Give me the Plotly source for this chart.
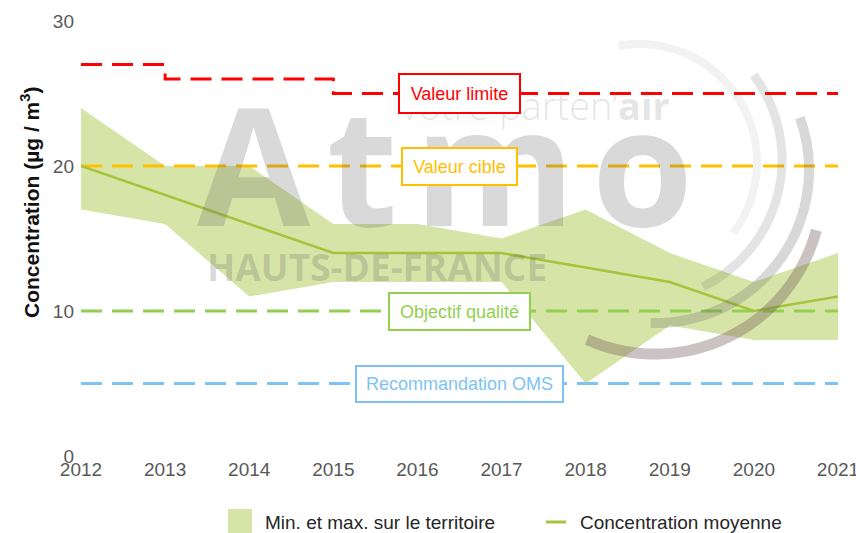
import numpy as np
import plotly.graph_objects as go

# ---- data ----
years = [2012, 2013, 2014, 2015, 2016, 2017, 2018, 2019, 2020, 2021]
conc_max = [24, 20, 20, 16, 16, 15, 17, 14, 12, 14]
conc_min = [17, 16, 11, 12, 12, 12, 5, 9, 8, 8]
conc_mean = [20, 18, 16, 14, 14, 14, 13, 12, 10, 11]

limit_years = [2012, 2013, 2015, 2021]
limit_vals = [27, 26, 25, 25]
target_val = 20
quality_val = 10
who_val = 5

y_ticks = [0, 10, 20, 30]
x_tick_labels = [str(y) for y in years]

# ---- styles ----
RED = "#FF0000"
ORANGE = "#FFC000"
GREEN = "#92D050"
BLUE = "#7DC3F5"
BAND = "#D7E4A7"
MEAN = "#A3C43C"
FONT = "Liberation Sans, Arial, sans-serif"

# plot area in pixels (for decorative watermark placement)
L, R, T, B = 81, 838, 21, 456
W_, H_ = 856, 533


def pxx(x):
    return (x - L) / (R - L)


def pxy(y):
    return (B - y) / (B - T)


fig = go.Figure()

fig.add_trace(go.Scatter(x=years, y=conc_min, mode="lines", line=dict(width=0, color=BAND),
                         showlegend=False, hoverinfo="skip"))
fig.add_trace(go.Scatter(x=years, y=conc_max, mode="lines", line=dict(width=0, color=BAND),
                         fill="tonexty", fillcolor=BAND, name="Min. et max. sur le territoire",
                         showlegend=False))

dash = "21px,10px"
fig.add_trace(go.Scatter(x=limit_years, y=limit_vals, mode="lines", line=dict(color=RED, width=3, dash=dash, shape="hv"),
                         showlegend=False))
fig.add_trace(go.Scatter(x=[years[0], years[-1]], y=[target_val] * 2, mode="lines",
                         line=dict(color=ORANGE, width=3, dash=dash), showlegend=False))
fig.add_trace(go.Scatter(x=[years[0], years[-1]], y=[quality_val] * 2, mode="lines",
                         line=dict(color=GREEN, width=3, dash=dash), showlegend=False))
fig.add_trace(go.Scatter(x=[years[0], years[-1]], y=[who_val] * 2, mode="lines",
                         line=dict(color=BLUE, width=3, dash=dash), showlegend=False))

fig.add_trace(go.Scatter(x=years, y=conc_mean, mode="lines", line=dict(color=MEAN, width=2.5),
                         name="Concentration moyenne", showlegend=False))

annotations = []
shapes = []

# ---- watermark (decorative) ----
WM = "rgba(90,90,90,0.23)"
hs = "\u200a"
annotations.append(dict(text="<b>A" + hs + "t" + hs + "m" + hs + "o</b>", x=pxx(445), y=pxy(162), xref="paper", yref="paper",
                        xanchor="center", yanchor="middle", showarrow=False,
                        font=dict(family="Open Sans", size=164, color=WM)))
annotations.append(dict(text="<b>HAUTS-DE-FRANCE</b>", x=pxx(377), y=pxy(266), xref="paper", yref="paper",
                        xanchor="center", yanchor="middle", showarrow=False,
                        font=dict(family="Open Sans", size=37, color=WM)))
annotations.append(dict(text="votre parten’<b>air</b>", x=pxx(535), y=pxy(105), xref="paper", yref="paper",
                        xanchor="center", yanchor="middle", showarrow=False,
                        font=dict(family="Open Sans", size=38, color="rgba(90,90,90,0.17)", weight=300)))

arcs = [
    # cx, cy, r, a0, a1, width, color
    (639, 162, 118, -100, 37, 8, "rgba(90,90,90,0.08)"),
    (641, 160, 141, -37, 64, 9, "rgba(90,90,90,0.16)"),
    (656, 170, 153, -20, 92, 10, "rgba(90,90,90,0.24)"),
    (655, 187, 167, 15, 114, 11, "rgba(110,90,90,0.36)"),
]
for cx, cy, r, a0, a1, w, col in arcs:
    th = np.radians(np.linspace(a0, a1, 60))
    xs = cx + r * np.cos(th)
    ys = cy + r * np.sin(th)
    path = "M " + " L ".join(f"{pxx(a):.5f},{pxy(b):.5f}" for a, b in zip(xs, ys))
    shapes.append(dict(type="path", path=path, xref="paper", yref="paper", layer="above",
                       line=dict(color=col, width=w)))

# ---- threshold labels ----
mid_x = (years[0] + years[-1]) / 2
boxes = [
    ("Valeur limite", limit_vals[-1], RED, 111, 29),
    ("Valeur cible", target_val, ORANGE, 105, 27),
    ("Objectif qualité", quality_val, GREEN, 131, 27),
    ("Recommandation OMS", who_val, BLUE, 197, 26),
]
for txt, yv, col, w, h in boxes:
    annotations.append(dict(text=txt, x=mid_x, y=yv, xref="x", yref="y", showarrow=False,
                            xanchor="center", yanchor="middle", width=w, height=h,
                            bgcolor="white", bordercolor=col, borderwidth=2, borderpad=4,
                            font=dict(family=FONT, size=18, color=col)))

# ---- y axis title ----
annotations.append(dict(text="<b>Concentration (µg / m<sup>3</sup>)</b>", x=pxx(30), y=pxy(203),
                        xref="paper", yref="paper", textangle=-90, showarrow=False,
                        xanchor="center", yanchor="middle",
                        font=dict(family=FONT, size=21, color="#111111")))

# ---- legend (manual) ----
shapes.append(dict(type="rect", xref="paper", yref="paper", x0=pxx(228), x1=pxx(252),
                   y0=pxy(509), y1=pxy(533), fillcolor=BAND, line=dict(width=0)))
annotations.append(dict(text="Min. et max. sur le territoire", x=pxx(263), y=pxy(522), xref="paper", yref="paper",
                        xanchor="left", yanchor="middle", showarrow=False,
                        font=dict(family=FONT, size=19, color="#262626")))
shapes.append(dict(type="line", xref="paper", yref="paper", x0=pxx(546), x1=pxx(566),
                   y0=pxy(522), y1=pxy(522), line=dict(color=MEAN, width=3)))
annotations.append(dict(text="Concentration moyenne", x=pxx(578), y=pxy(522), xref="paper", yref="paper",
                        xanchor="left", yanchor="middle", showarrow=False,
                        font=dict(family=FONT, size=19, color="#262626")))

fig.update_layout(
    width=W_, height=H_,
    margin=dict(l=L, r=W_ - R, t=T, b=H_ - B, pad=0, autoexpand=False),
    paper_bgcolor="white", plot_bgcolor="white",
    showlegend=False,
    annotations=annotations, shapes=shapes,
    xaxis=dict(range=[years[0], years[-1]], tickvals=years, ticktext=x_tick_labels,
               showgrid=False, zeroline=False, showline=False, ticks="",
               ticklabeloverflow="allow", automargin=False,
               tickfont=dict(family=FONT, size=19, color="#595959")),
    yaxis=dict(range=[0, 30], tickvals=y_ticks, showgrid=False, zeroline=False, showline=False,
               ticks="", ticklabelstandoff=6, automargin=False,
               tickfont=dict(family=FONT, size=19, color="#595959")),
)

fig.write_html("out.html", config={"displayModeBar": False},
               post_script="document.body.style.margin='0';")
